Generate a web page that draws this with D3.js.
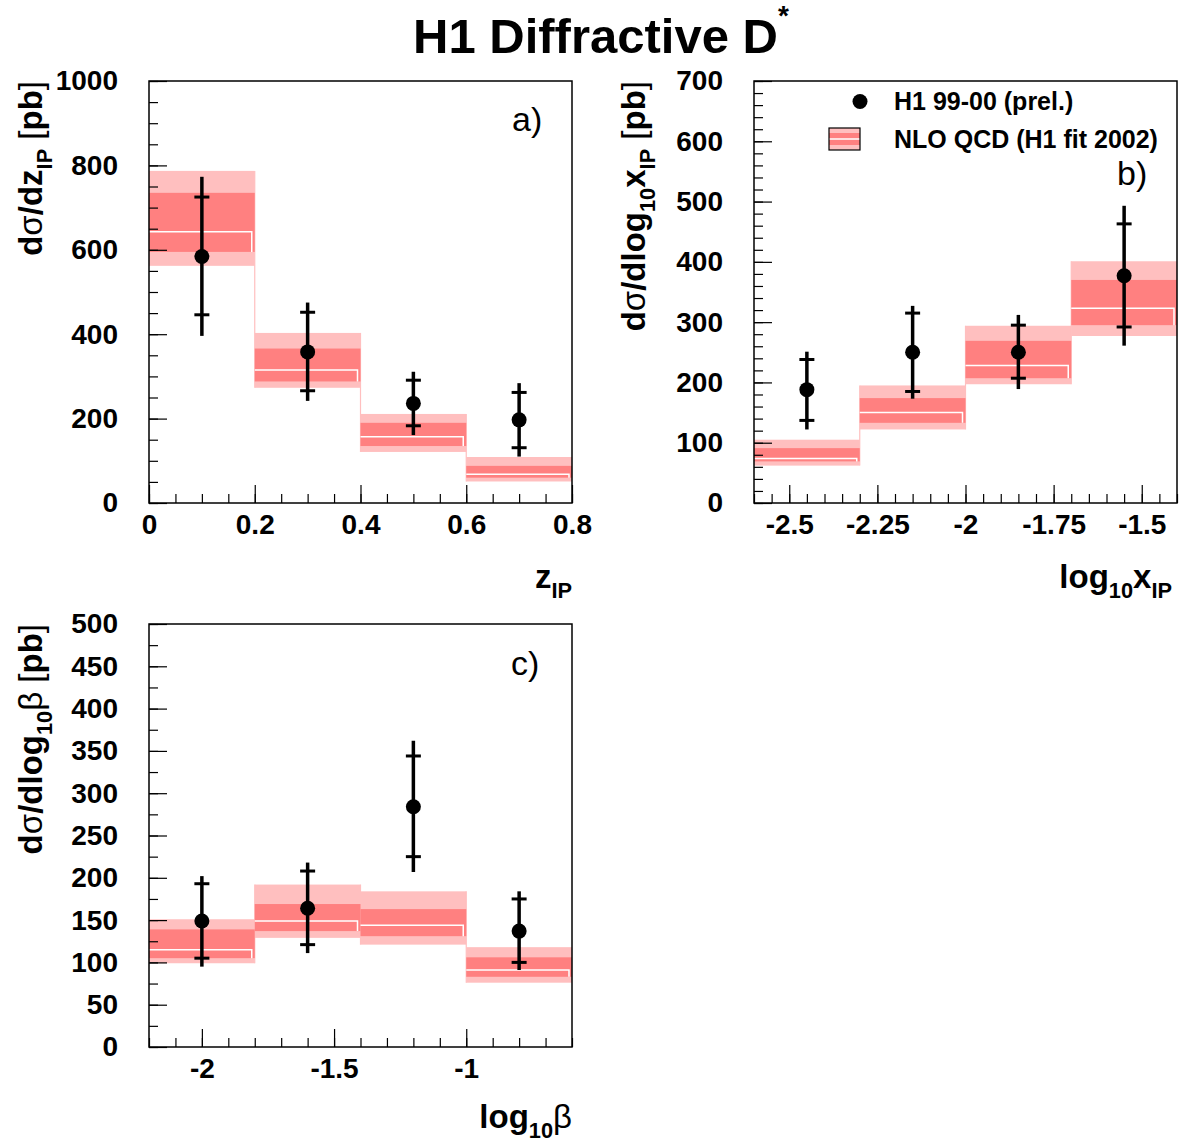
<!DOCTYPE html>
<html>
<head>
<meta charset="utf-8">
<script src="https://cdn.jsdelivr.net/npm/d3@7"></script>
<style>
  body { margin: 0; background: #fff; }
  text { font-family: "Liberation Sans", Arial, Helvetica, sans-serif; }
</style>
</head>
<body>
<svg id="chart" width="1188" height="1147"></svg>
<script>
// ---- panel a) : d sigma / d z_IP ----
const zBins = [0, 0.2, 0.4, 0.6, 0.8];
const zVal = [584, 358, 236, 197];
const zStatHi = [725, 452, 291, 262];
const zStatLo = [446, 266, 183, 131];
const zTotHi = [773, 475, 311, 284];
const zTotLo = [396, 242, 161, 110];
const zNlo = [643, 315, 157, 68];
const zNloInHi = [735, 366, 190, 88];
const zNloInLo = [595, 288, 135, 60];
const zNloOutHi = [787, 403, 211, 109];
const zNloOutLo = [562, 273, 121, 51];
const zTicks = [0, 0.2, 0.4, 0.6, 0.8];
const zYTicks = [0, 200, 400, 600, 800, 1000];

// ---- panel b) : d sigma / d log10 x_IP ----
const xpBins = [-2.6, -2.3, -2.0, -1.7, -1.4];
const xpVal = [188, 250, 250, 377];
const xpStatHi = [238, 315, 295, 463];
const xpStatLo = [137, 185, 207, 292];
const xpTotHi = [251, 327, 312, 493];
const xpTotLo = [122, 173, 189, 261];
const xpNlo = [74, 150, 228, 323];
const xpNloInHi = [91, 174, 269, 370];
const xpNloInLo = [69, 133, 207, 295];
const xpNloOutHi = [105, 195, 294, 401];
const xpNloOutLo = [62, 122, 197, 277];
const xpTicks = [-2.5, -2.25, -2, -1.75, -1.5];
const xpYTicks = [0, 100, 200, 300, 400, 500, 600, 700];

// ---- panel c) : d sigma / d log10 beta ----
const bBins = [-2.2, -1.8, -1.4, -1.0, -0.6];
const bVal = [149, 164, 284, 137];
const bStatHi = [193, 208, 344, 175];
const bStatLo = [105, 121, 225, 100];
const bTotHi = [202, 218, 362, 184];
const bTotLo = [95, 111, 207, 91];
const bNlo = [115, 149, 144, 91];
const bNloInHi = [139, 169, 163, 106];
const bNloInLo = [105, 137, 131, 83];
const bNloOutHi = [151, 192, 184, 118];
const bNloOutLo = [99, 129, 121, 76];
const bTicks = [-2, -1.5, -1];
const bYTicks = [0, 50, 100, 150, 200, 250, 300, 350, 400, 450, 500];

const LIGHT = '#ffbfbf';
const DARK = '#ff8080';
const svg = d3.select('#chart');

function buildSeries(bins, val, statHi, statLo, totHi, totLo, nlo, inHi, inLo, outHi, outLo) {
    return val.map((v, i) => ({
        lo: bins[i], hi: bins[i + 1], mid: (bins[i] + bins[i + 1]) / 2,
        v, statHi: statHi[i], statLo: statLo[i], totHi: totHi[i], totLo: totLo[i],
        nlo: nlo[i], inHi: inHi[i], inLo: inLo[i], outHi: outHi[i], outLo: outLo[i]
    }));
}

function drawPanel(cfg) {
    const x = d3.scaleLinear().domain(cfg.xDomain).range([cfg.left, cfg.right]);
    const y = d3.scaleLinear().domain(cfg.yDomain).range([cfg.bottom, cfg.top]);
    const g = svg.append('g');
    const data = cfg.data;

    // NLO bands
    g.selectAll('.outer').data(data).join('rect')
        .attr('x', d => x(d.lo)).attr('width', d => x(d.hi) - x(d.lo))
        .attr('y', d => y(d.outHi)).attr('height', d => y(d.outLo) - y(d.outHi))
        .attr('fill', LIGHT);
    // thin step connectors between bins
    g.selectAll('.conn').data(data.slice(1)).join('line')
        .attr('x1', d => x(d.lo)).attr('x2', d => x(d.lo))
        .attr('y1', (d, i) => y(Math.max(d.outHi, data[i].outHi)))
        .attr('y2', (d, i) => y(Math.min(d.outLo, data[i].outLo)))
        .attr('stroke', LIGHT).attr('stroke-width', 1.2);
    g.selectAll('.inner').data(data).join('rect')
        .attr('x', d => x(d.lo)).attr('width', d => x(d.hi) - x(d.lo))
        .attr('y', d => y(d.inHi)).attr('height', d => y(d.inLo) - y(d.inHi))
        .attr('fill', DARK);
    g.selectAll('.central').data(data).join('path')
        .attr('d', d => `M${x(d.lo)},${y(d.nlo)}H${x(d.hi) - 3}V${y(d.inLo)}`)
        .attr('fill', 'none').attr('stroke', '#fff').attr('stroke-width', 1.5);

    // frame
    g.append('rect')
        .attr('x', cfg.left).attr('y', cfg.top)
        .attr('width', cfg.right - cfg.left).attr('height', cfg.bottom - cfg.top)
        .attr('fill', 'none').attr('stroke', '#000').attr('stroke-width', 1.5);

    // axes (ticks pointing into the frame)
    const yMinor = g.append('g').attr('transform', `translate(${cfg.left},0)`)
        .call(d3.axisLeft(y).tickValues(cfg.yMinor).tickSize(-9).tickFormat(''));
    const yMajor = g.append('g').attr('transform', `translate(${cfg.left},0)`)
        .call(d3.axisLeft(y).tickValues(cfg.yMajor).tickSize(-18).tickPadding(31).tickFormat(d => String(d)));
    const xMinor = g.append('g').attr('transform', `translate(0,${cfg.bottom})`)
        .call(d3.axisBottom(x).tickValues(cfg.xMinor).tickSize(-9).tickFormat(''));
    const xMajor = g.append('g').attr('transform', `translate(0,${cfg.bottom})`)
        .call(d3.axisBottom(x).tickValues(cfg.xMajor).tickSize(-18).tickPadding(11).tickFormat(cfg.xFmt));
    [yMinor, yMajor, xMinor, xMajor].forEach(a => {
        a.select('.domain').remove();
        a.selectAll('line').attr('stroke', '#000').attr('stroke-width', 1.2);
        a.selectAll('text').attr('font-size', 28).attr('font-weight', 'bold')
            .attr('font-family', '"Liberation Sans", Arial, sans-serif').attr('fill', '#000');
    });

    // data points: total error line, stat error caps, marker
    const pts = g.append('g');
    pts.selectAll('.tot').data(data).join('line')
        .attr('x1', d => x(d.mid)).attr('x2', d => x(d.mid))
        .attr('y1', d => y(d.totHi)).attr('y2', d => y(d.totLo))
        .attr('stroke', '#000').attr('stroke-width', 3.5);
    pts.selectAll('.capHi').data(data).join('line')
        .attr('x1', d => x(d.mid) - 7.5).attr('x2', d => x(d.mid) + 7.5)
        .attr('y1', d => y(d.statHi)).attr('y2', d => y(d.statHi))
        .attr('stroke', '#000').attr('stroke-width', 3);
    pts.selectAll('.capLo').data(data).join('line')
        .attr('x1', d => x(d.mid) - 7.5).attr('x2', d => x(d.mid) + 7.5)
        .attr('y1', d => y(d.statLo)).attr('y2', d => y(d.statLo))
        .attr('stroke', '#000').attr('stroke-width', 3);
    pts.selectAll('circle').data(data).join('circle')
        .attr('cx', d => x(d.mid)).attr('cy', d => y(d.v)).attr('r', 7.5).attr('fill', '#000');

    // panel letter
    g.append('text').attr('x', cfg.letterPos[0]).attr('y', cfg.letterPos[1])
        .attr('font-family', '"Liberation Serif", "Times New Roman", serif')
        .attr('font-size', 34).text(cfg.letter);
}

// rich-text helper: parts = [[text, kind]] kind: 'b' bold, 'n' normal, 'sub' bold subscript
function richText(sel, parts, size) {
    let shifted = false;
    parts.forEach(([t, kind]) => {
        const ts = sel.append('tspan').text(t);
        if (kind === 'sub') {
            ts.attr('font-size', size * 0.66).attr('font-weight', 'bold');
            if (!shifted) { ts.attr('dy', size * 0.3); shifted = true; }
        } else {
            ts.attr('font-size', size).attr('font-weight', kind === 'n' ? 'normal' : 'bold');
            if (shifted) { ts.attr('dy', -size * 0.3); shifted = false; }
        }
    });
}

drawPanel({
    left: 149, right: 572, top: 81, bottom: 503,
    xDomain: [0, 0.8], yDomain: [0, 1000],
    xMajor: zTicks, xMinor: d3.range(0, 0.81, 0.05),
    yMajor: zYTicks, yMinor: d3.range(0, 1001, 50),
    xFmt: d => d === 0 ? '0' : d3.format('.1f')(d),
    data: buildSeries(zBins, zVal, zStatHi, zStatLo, zTotHi, zTotLo, zNlo, zNloInHi, zNloInLo, zNloOutHi, zNloOutLo),
    letter: 'a)', letterPos: [512, 131]
});
drawPanel({
    left: 754, right: 1177, top: 81, bottom: 503,
    xDomain: [-2.6, -1.4], yDomain: [0, 700],
    xMajor: xpTicks, xMinor: d3.range(-2.6, -1.399, 0.05),
    yMajor: xpYTicks, yMinor: d3.range(0, 701, 20),
    xFmt: d => String(+d.toFixed(2)),
    data: buildSeries(xpBins, xpVal, xpStatHi, xpStatLo, xpTotHi, xpTotLo, xpNlo, xpNloInHi, xpNloInLo, xpNloOutHi, xpNloOutLo),
    letter: 'b)', letterPos: [1117, 185]
});
drawPanel({
    left: 149, right: 572, top: 624, bottom: 1047,
    xDomain: [-2.2, -0.6], yDomain: [0, 500],
    xMajor: bTicks, xMinor: d3.range(-2.2, -0.599, 0.1),
    yMajor: bYTicks, yMinor: d3.range(0, 501, 25),
    xFmt: d => String(+d.toFixed(2)),
    data: buildSeries(bBins, bVal, bStatHi, bStatLo, bTotHi, bTotLo, bNlo, bNloInHi, bNloInLo, bNloOutHi, bNloOutLo),
    letter: 'c)', letterPos: [511, 675]
});

// title
const title = svg.append('text').attr('x', 413).attr('y', 53)
    .attr('font-size', 49).attr('font-weight', 'bold');
title.append('tspan').text('H1 Diffractive D');
title.append('tspan').attr('font-size', 28).attr('dy', -28).text('*');

// axis titles
const TS = 33;
richText(svg.append('text').attr('x', 572).attr('y', 588).attr('text-anchor', 'end'),
    [['z', 'b'], ['IP', 'sub']], TS);
richText(svg.append('text').attr('x', 1172).attr('y', 588).attr('text-anchor', 'end'),
    [['log', 'b'], ['10', 'sub'], ['x', 'b'], ['IP', 'sub']], TS);
richText(svg.append('text').attr('x', 572).attr('y', 1128).attr('text-anchor', 'end'),
    [['log', 'b'], ['10', 'sub'], ['β', 'n']], TS);

richText(svg.append('text').attr('transform', 'translate(42,81) rotate(-90)').attr('text-anchor', 'end'),
    [['d', 'b'], ['σ', 'n'], ['/dz', 'b'], ['IP', 'sub'], [' ', 'b'], ['[', 'n'], ['pb', 'b'], [']', 'n']], TS);
richText(svg.append('text').attr('transform', 'translate(645,81) rotate(-90)').attr('text-anchor', 'end'),
    [['d', 'b'], ['σ', 'n'], ['/dlog', 'b'], ['10', 'sub'], ['x', 'b'], ['IP', 'sub'], [' ', 'b'], ['[', 'n'], ['pb', 'b'], [']', 'n']], TS);
richText(svg.append('text').attr('transform', 'translate(42,624) rotate(-90)').attr('text-anchor', 'end'),
    [['d', 'b'], ['σ', 'n'], ['/dlog', 'b'], ['10', 'sub'], ['β', 'n'], [' ', 'b'], ['[', 'n'], ['pb', 'b'], [']', 'n']], TS);

// legend
const leg = svg.append('g');
leg.append('circle').attr('cx', 860).attr('cy', 101.5).attr('r', 7.5).attr('fill', '#000');
leg.append('text').attr('x', 894).attr('y', 110).attr('font-size', 25).attr('font-weight', 'bold')
    .text('H1 99-00 (prel.)');
leg.append('rect').attr('x', 829).attr('y', 128).attr('width', 31).attr('height', 22).attr('fill', LIGHT);
leg.append('rect').attr('x', 829).attr('y', 133).attr('width', 31).attr('height', 12).attr('fill', DARK);
leg.append('line').attr('x1', 829).attr('x2', 860).attr('y1', 139).attr('y2', 139)
    .attr('stroke', '#fff').attr('stroke-width', 1.5);
leg.append('rect').attr('x', 829).attr('y', 128).attr('width', 31).attr('height', 22)
    .attr('fill', 'none').attr('stroke', '#000').attr('stroke-width', 1.2);
leg.append('text').attr('x', 894).attr('y', 148).attr('font-size', 25).attr('font-weight', 'bold')
    .text('NLO QCD (H1 fit 2002)');
</script>
</body>
</html>
